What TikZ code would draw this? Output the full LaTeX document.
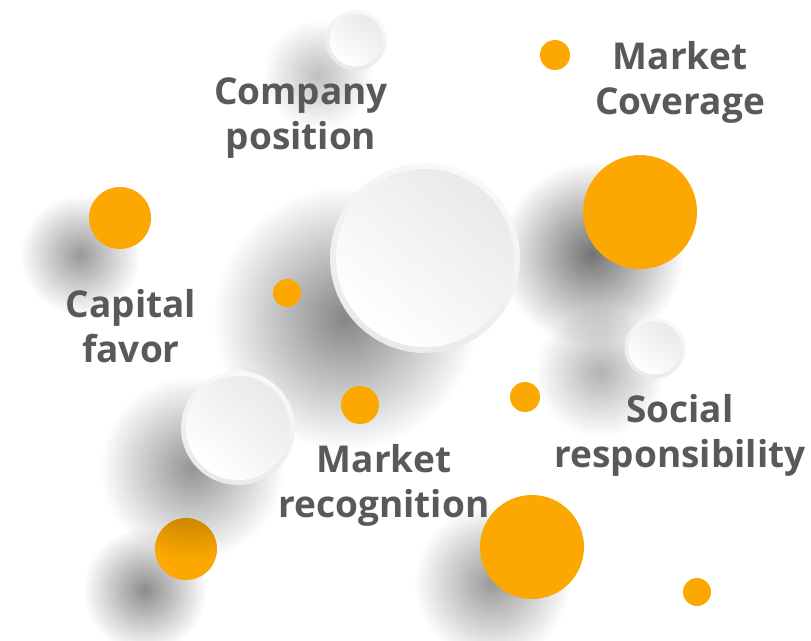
\documentclass[tikz,border=0pt]{standalone}
\usepackage{fontspec}
\setmainfont{Open Sans}
\usetikzlibrary{positioning,fadings}
\definecolor{dotorange}{RGB}{252,168,0}
\definecolor{labelgray}{RGB}{89,89,89}
\tikzfading[name=softshadow,inner color=transparent!0,outer color=transparent!100]

\begin{document}
\begin{tikzpicture}[x=1pt,y=-1pt,
  lab/.style={font=\bfseries\fontsize{37}{45}\selectfont,text=labelgray,align=center,inner sep=0pt},
  orangedot/.style={circle,fill=dotorange,inner sep=0pt,minimum size=#1},
  ring/.style={circle,inner sep=0pt,minimum size=#1,shade,top color=gray!5,bottom color=gray!17,shading angle=-20},
  face/.style={circle,inner sep=0pt,minimum size=#1,shade,top color=gray!17,bottom color=white,shading angle=-40},
  blob/.style={black,opacity=#1,path fading=softshadow}]
  \useasboundingbox (0,0) rectangle (811,640);
  % dot sitting under the disc shadow
  \fill[blob=0.45] (145,590) circle (62);
  \node[orangedot=62pt] (dotSW) at (186,549) {};
  % soft shadows
  \foreach \x/\y/\r/\o in {345/318/132/0.48,192/468/92/0.42,318/75/55/0.25,
                           600/372/65/0.3,592/254/92/0.55,80/255/60/0.4,
                           492/583/78/0.4}{
    \fill[blob=\o] (\x,\y) circle (\r);
  }
  % white discs
  \node[ring=190pt] (bigRing) at (425,258) {};
  \node[face=178pt] (bigFace) at (bigRing) {};
  \node[ring=114pt] (midRing) at (238,428) {};
  \node[face=104pt] (midFace) at (midRing) {};
  \node[ring=61pt] (topRing) at (356,40) {};
  \node[face=53pt] (topFace) at (topRing) {};
  \node[ring=61pt] (rightRing) at (655,348) {};
  \node[face=53pt] (rightFace) at (rightRing) {};
  % orange dots
  \node[orangedot=114pt] (dotCover) at (640,212) {};
  \node[orangedot=62pt] (dotCap) at (120,218) {};
  \node[orangedot=104pt] (dotLow) at (532,547) {};
  \node[orangedot=30pt] (dotTop) at (555,55) {};
  \node[orangedot=28pt] (dotLeft) at (287,293) {};
  \node[orangedot=38pt] (dotMid) at (360,405) {};
  \node[orangedot=30pt] (dotRight) at (525,397) {};
  \node[orangedot=28pt] (dotCorner) at (697,592) {};
  % labels
  \node[lab] (compLab) at (301,118) {Company\\position};
  \node[lab] (covLab) at (680,82) {Market\\Coverage};
  \node[lab] (capLab) at (131,326) {Capital\\favor};
  \node[lab] (recLab) at (384,485) {Market\\recognition};
  \node[lab] (socLab) at (680,435) {Social\\responsibility};
\end{tikzpicture}
\end{document}
